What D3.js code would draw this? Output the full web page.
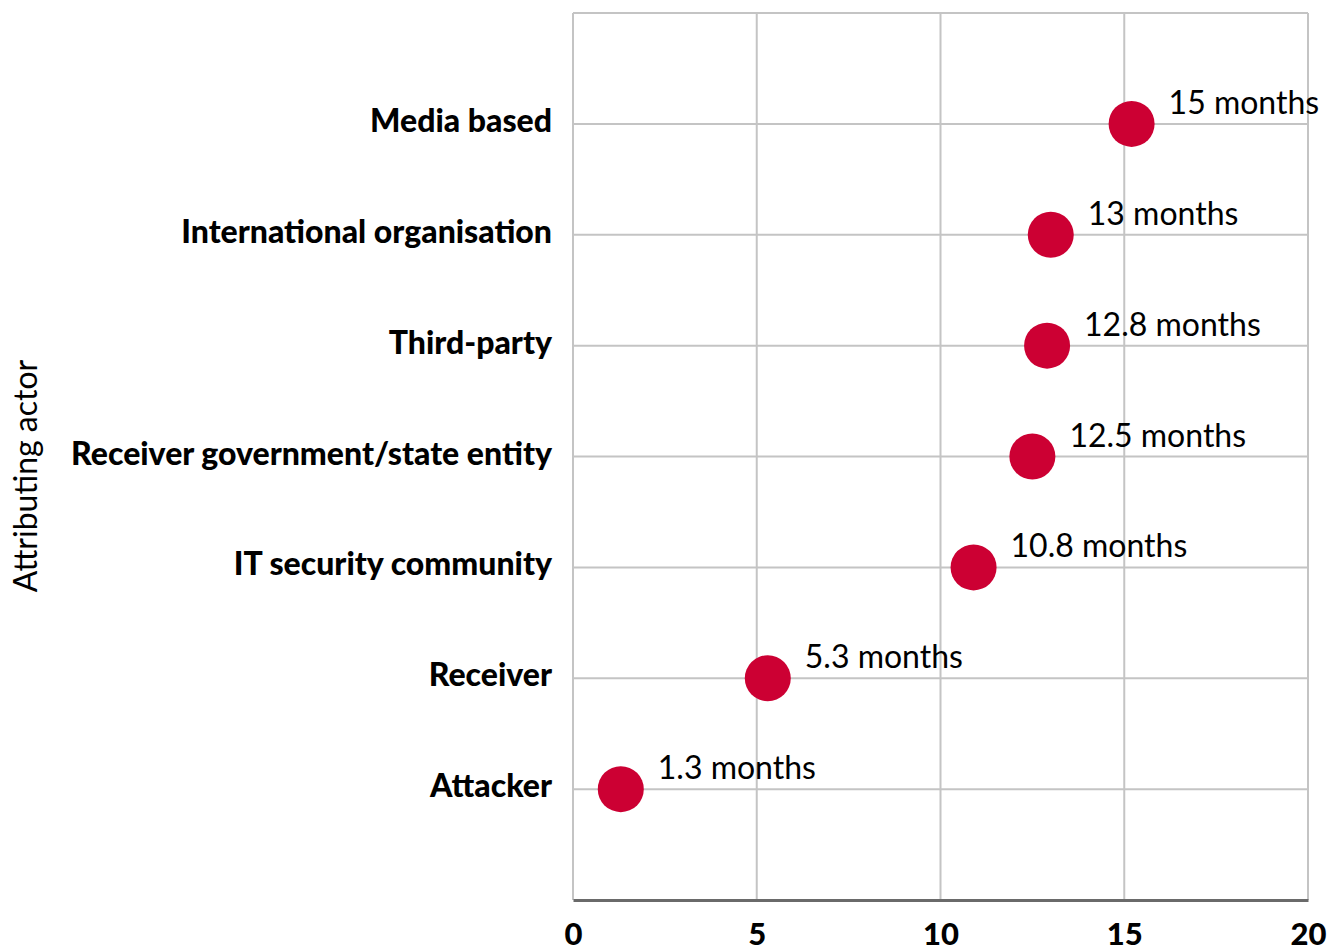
<html>
<head>
  <meta charset="utf-8">
  <script src="https://d3js.org/d3.v7.min.js"></script>
  <style>
    body { margin: 0; background: #fff; }
    text { font-family: Lato, "Open Sans", sans-serif; }
  </style>
</head>
<body>
<svg id="chart" width="1337" height="949"></svg>
<script>
  // data
  var actors = ["Media based", "International organisation", "Third-party",
                "Receiver government/state entity", "IT security community", "Receiver", "Attacker"];
  var months = [15.2, 13.0, 12.9, 12.5, 10.9, 5.3, 1.3];
  var monthLabels = ["15 months", "13 months", "12.8 months", "12.5 months",
                     "10.8 months", "5.3 months", "1.3 months"];
  var xTicks = [0, 5, 10, 15, 20];

  function makeChart() {
    var rows = actors.map((a, i) => ({ actor: a, value: months[i], label: monthLabels[i] }));

    var plotLeft = 573, plotRight = 1308, plotTop = 13, plotBottom = 900;
    var svg = d3.select("#chart");

    var x = d3.scaleLinear().domain([0, 20]).range([plotLeft, plotRight]);
    var y = d3.scalePoint().domain(actors).range([plotTop, plotBottom]).padding(1);

    // vertical grid
    svg.append("g").selectAll("line").data(xTicks).enter()
      .append("line")
      .attr("x1", d => x(d)).attr("x2", d => x(d))
      .attr("y1", plotTop).attr("y2", plotBottom)
      .attr("stroke", "#c4c4c4").attr("stroke-width", 2);

    // horizontal grid + top border
    svg.append("g").selectAll("line").data(actors).enter()
      .append("line")
      .attr("x1", plotLeft).attr("x2", plotRight)
      .attr("y1", d => y(d)).attr("y2", d => y(d))
      .attr("stroke", "#c4c4c4").attr("stroke-width", 2);
    svg.append("line")
      .attr("x1", plotLeft).attr("x2", plotRight).attr("y1", plotTop).attr("y2", plotTop)
      .attr("stroke", "#c4c4c4").attr("stroke-width", 2);

    // bottom axis
    var xAxis = svg.append("g").attr("transform", "translate(0," + plotBottom + ")")
      .call(d3.axisBottom(x).tickValues(xTicks).tickSize(0).tickPadding(23));
    xAxis.select(".domain").attr("stroke", "#6a6a6a").attr("stroke-width", 3);
    xAxis.selectAll("text")
      .attr("font-size", 31).attr("font-weight", 900).attr("fill", "#000")
      .style("font-family", "Lato");

    // category labels
    svg.append("g").selectAll("text").data(actors).enter()
      .append("text")
      .attr("x", 552).attr("y", d => y(d) + 8)
      .attr("text-anchor", "end")
      .attr("font-size", 32).attr("font-weight", 900)
      .text(d => d);

    // y title
    svg.append("text")
      .attr("transform", "translate(37,476) rotate(-90)")
      .attr("text-anchor", "middle")
      .attr("font-size", 32)
      .text("Attributing actor");

    // dots
    svg.append("g").selectAll("circle").data(rows).enter()
      .append("circle")
      .attr("cx", d => x(d.value)).attr("cy", d => y(d.actor))
      .attr("r", 23)
      .attr("fill", "#cc0033");

    // value labels
    svg.append("g").selectAll("text").data(rows).enter()
      .append("text")
      .attr("x", d => x(d.value) + 37).attr("y", d => y(d.actor) - 10)
      .attr("font-size", 32)
      .text(d => d.label);
  }
  makeChart();
</script>
</body>
</html>
